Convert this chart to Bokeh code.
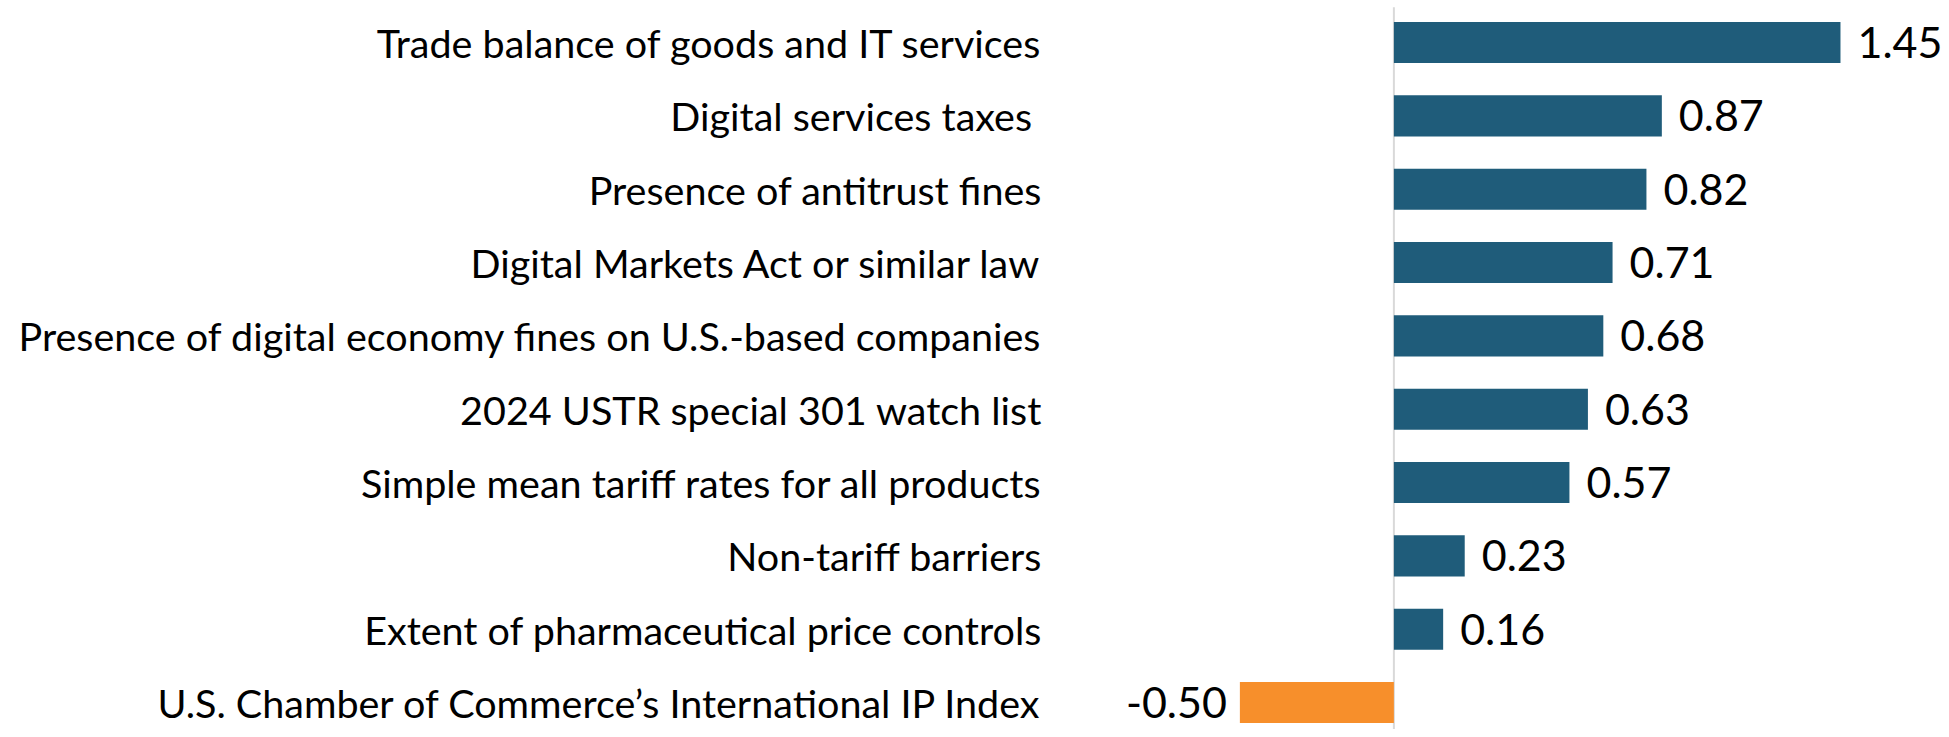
from bokeh.plotting import figure
from bokeh.models import Range1d, ColumnDataSource
from bokeh.core.properties import value
from bokeh.embed import file_html
from bokeh.resources import INLINE

categories = [
    "Trade balance of goods and IT services",
    "Digital services taxes ",
    "Presence of antitrust fines",
    "Digital Markets Act or similar law",
    "Presence of digital economy fines on U.S.-based companies",
    "2024 USTR special 301 watch list",
    "Simple mean tariff rates for all products",
    "Non-tariff barriers",
    "Extent of pharmaceutical price controls",
    "U.S. Chamber of Commerce\u2019s International IP Index",
]
values = [1.45, 0.87, 0.82, 0.71, 0.68, 0.63, 0.57, 0.23, 0.16, -0.50]
labels = ["1.45", "0.87", "0.82", "0.71", "0.68", "0.63", "0.57", "0.23", "0.16", "-0.50"]

BLUE = "#1F5C7A"
ORANGE = "#F78F2B"
FONT = "Lato"
LABEL_X = -1.142  # data-space anchor for category labels (right edge)

n = len(categories)
ypos = [n - 1 - i for i in range(n)]
colors = [BLUE if v >= 0 else ORANGE for v in values]

src = ColumnDataSource(dict(y=ypos, v=values, c=colors, lab=labels,
                            left=[min(0, v) for v in values],
                            right=[max(0, v) for v in values]))

Y0, Y1 = -0.368, 9.573
p = figure(width=1941, height=729, output_backend="svg", toolbar_location=None,
           x_range=Range1d(-4.524, 1.778), y_range=Range1d(Y0, Y1),
           min_border_left=0, min_border_right=0, min_border_top=0, min_border_bottom=0)

# zero line (vertical axis)
p.segment(x0=[0], y0=[Y0], x1=[0], y1=[n - 1 + 0.48], line_color="#D9D9D9", line_width=2)

p.hbar(y="y", left="left", right="right", height=0.56, fill_color="c", line_color=None, source=src)

pos = ColumnDataSource(dict(x=[v for v in values if v >= 0], y=[y for y, v in zip(ypos, values) if v >= 0],
                            t=[l for l, v in zip(labels, values) if v >= 0]))
neg = ColumnDataSource(dict(x=[v for v in values if v < 0], y=[y for y, v in zip(ypos, values) if v < 0],
                            t=[l for l, v in zip(labels, values) if v < 0]))
p.text(x="x", y="y", text="t", source=pos, x_offset=17, text_align="left", text_baseline="middle",
       text_font=value(FONT), text_font_size="43px", text_color="black")
p.text(x="x", y="y", text="t", source=neg, x_offset=-13, text_align="right", text_baseline="middle",
       text_font=value(FONT), text_font_size="43px", text_color="black")

cat_src = ColumnDataSource(dict(x=[LABEL_X] * n, y=ypos, t=categories))
p.text(x="x", y="y", text="t", source=cat_src, text_align="right", text_baseline="middle",
       text_font=value(FONT), text_font_size="39.5px", text_color="black")

p.xaxis.visible = False
p.yaxis.visible = False
p.xgrid.visible = False
p.ygrid.visible = False
p.outline_line_color = None

open("out.html", "w").write(file_html(p, INLINE))
